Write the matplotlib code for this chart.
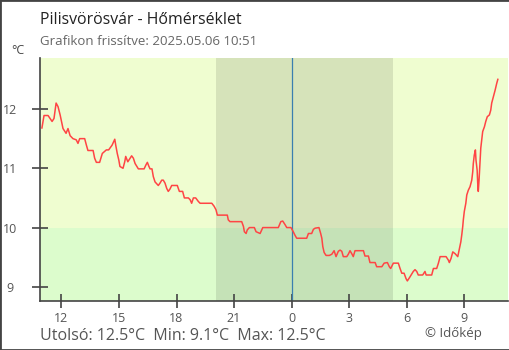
import matplotlib
matplotlib.use("Agg")
import matplotlib.pyplot as plt
from matplotlib.patches import Rectangle

# hours relative to midnight (negative = previous day)
hours = [-13.02, -12.91, -12.70, -12.49, -12.39, -12.28, -12.18, -12.07, -12.01, -11.92,
         -11.76, -11.66, -11.55, -11.40, -11.23, -11.14, -11.05, -10.79, -10.70, -10.62,
         -10.35, -10.27, -10.18, -10.01, -9.87, -9.66, -9.54, -9.36, -9.22, -9.17,
         -9.09, -9.01, -8.95, -8.79, -8.70, -8.65, -8.54, -8.42, -8.34, -8.25,
         -8.16, -7.99, -7.69, -7.59, -7.52, -7.45, -7.38, -7.28, -7.21, -7.12,
         -6.95, -6.86, -6.77, -6.69, -6.60, -6.51, -6.43, -6.34, -6.25, -5.96,
         -5.85, -5.68, -5.59, -5.38, -5.29, -5.21, -5.12, -5.00, -4.86, -4.77,
         -4.16, -4.04, -3.94, -3.87, -3.35, -3.30, -3.21, -2.60, -2.51, -2.46,
         -2.37, -2.31, -2.20, -1.94, -1.85, -1.64, -1.50, -0.69, -0.56, -0.46,
         -0.34, -0.25, -0.03, 0.09, 0.18, 0.27, 0.79, 0.88, 1.05, 1.14,
         1.23, 1.43, 1.52, 1.58, 1.63, 1.70, 1.80, 1.97, 2.10, 2.22,
         2.32, 2.44, 2.53, 2.62, 2.70, 2.88, 2.96, 3.05, 3.14, 3.22,
         3.31, 3.75, 3.83, 4.01, 4.09, 4.36, 4.44, 4.71, 4.83, 5.00,
         5.10, 5.17, 5.31, 5.57, 5.66, 5.75, 5.87, 5.97, 6.04, 6.18,
         6.35, 6.44, 6.53, 6.61, 6.84, 6.96, 7.02, 7.31, 7.40, 7.57,
         7.66, 7.75, 8.06, 8.18, 8.23, 8.32, 8.41, 8.53, 8.67, 8.74,
         8.83, 8.88, 8.93, 8.96, 9.01, 9.09, 9.14, 9.22, 9.31, 9.40,
         9.45, 9.48, 9.53, 9.59, 9.62, 9.68, 9.71, 9.74, 9.78, 9.83,
         9.87, 9.92, 9.97, 10.06, 10.13, 10.21, 10.32, 10.39, 10.44, 10.53,
         10.62, 10.70, 10.76]
temps = [11.68, 11.89, 11.89, 11.79, 11.84, 12.10, 12.04, 11.90, 11.81, 11.67,
         11.59, 11.67, 11.55, 11.50, 11.48, 11.42, 11.50, 11.50, 11.39, 11.30,
         11.30, 11.17, 11.10, 11.10, 11.25, 11.31, 11.31, 11.39, 11.49, 11.39,
         11.25, 11.14, 11.03, 11.00, 11.11, 11.20, 11.11, 11.17, 11.21, 11.17,
         11.08, 10.99, 10.99, 11.06, 11.10, 11.04, 10.99, 10.99, 10.86, 10.77,
         10.71, 10.75, 10.80, 10.80, 10.75, 10.66, 10.61, 10.65, 10.71, 10.71,
         10.61, 10.61, 10.50, 10.50, 10.47, 10.41, 10.50, 10.50, 10.44, 10.41,
         10.41, 10.36, 10.30, 10.21, 10.21, 10.13, 10.10, 10.10, 10.02, 9.93,
         9.90, 9.96, 10.00, 10.00, 9.93, 9.90, 10.00, 10.00, 10.10, 10.11,
         10.05, 10.00, 10.00, 9.93, 9.87, 9.82, 9.82, 9.90, 9.90, 9.97,
         9.99, 10.00, 9.90, 9.82, 9.68, 9.58, 9.53, 9.53, 9.55, 9.61,
         9.51, 9.60, 9.62, 9.60, 9.51, 9.51, 9.55, 9.61, 9.56, 9.51,
         9.61, 9.61, 9.52, 9.52, 9.41, 9.41, 9.34, 9.34, 9.40, 9.41,
         9.34, 9.31, 9.40, 9.40, 9.31, 9.23, 9.23, 9.14, 9.10, 9.17,
         9.26, 9.29, 9.26, 9.20, 9.20, 9.26, 9.20, 9.20, 9.31, 9.31,
         9.40, 9.51, 9.51, 9.45, 9.41, 9.48, 9.59, 9.56, 9.51, 9.62,
         9.76, 9.88, 10.02, 10.13, 10.27, 10.41, 10.55, 10.63, 10.69, 10.80,
         10.94, 11.08, 11.22, 11.31, 11.14, 10.97, 10.75, 10.61, 10.80, 11.11,
         11.34, 11.48, 11.62, 11.70, 11.79, 11.87, 11.90, 11.98, 12.10, 12.21,
         12.32, 12.43, 12.50]

x_ticks = [-12, -9, -6, -3, 0, 3, 6, 9]
x_tick_labels = ["12", "15", "18", "21", "0", "3", "6", "9"]
y_ticks = [9, 10, 11, 12]
y_tick_labels = ["9", "10", "11", "12"]
sunset, sunrise = -3.94, 5.29
threshold = 10

title = "Pilisvörösvár - Hőmérséklet"
subtitle = "Grafikon frissítve: 2025.05.06 10:51"
footer = "Utolsó: 12.5°C  Min: 9.1°C  Max: 12.5°C"
credit = "© Időkép"

plt.rcParams['font.family'] = ['Open Sans', 'DejaVu Sans']

fig = plt.figure(figsize=(5.1, 3.5), dpi=100)
fig.patch.set_facecolor("white")
ax = fig.add_axes([40/510, 1-300.5/350, 468/510, (300.5-58)/350])

xmin, xmax = -13.12, 11.29
ymin, ymax = 8.77, 12.86
ax.set_xlim(xmin, xmax)
ax.set_ylim(ymin, ymax)

ax.axhspan(threshold, ymax, color="#effdd0", lw=0, zorder=0)
ax.axhspan(ymin, threshold, color="#dcfccc", lw=0, zorder=0)
ax.axvspan(sunset, sunrise, color="black", alpha=0.1, lw=0, zorder=1)
ax.axvline(0, color="#3a7fb0", lw=0.9, zorder=2)

ax.plot(hours, temps, color="#ff4444", lw=1.1, zorder=3)

for s in ["top", "right"]:
    ax.spines[s].set_visible(False)
for s in ["left", "bottom"]:
    ax.spines[s].set_color("#444444")
    ax.spines[s].set_linewidth(1.2)

ax.set_xticks(x_ticks)
ax.set_xticklabels(x_tick_labels)
ax.set_yticks(y_ticks)
ax.set_yticklabels(y_tick_labels)
ax.tick_params(axis="x", direction="inout", length=10, width=1.2, color="#444444",
               labelsize=9, labelcolor="#555555", pad=3)
ax.tick_params(axis="y", direction="inout", length=11, width=1.2, color="#444444",
               labelsize=9, labelcolor="#555555", pad=16)
for lab in ax.get_yticklabels():
    lab.set_horizontalalignment("center")

fig.text(40/510, 1-24.5/350, title, fontsize=11.4, color="#222222", ha="left", va="baseline")
fig.text(40/510, 1-45/350, subtitle, fontsize=9.5, color="#666666", ha="left", va="baseline")
fig.text(18/510, 1-51/350, "°C", fontsize=9, color="#444444", ha="center", va="center")
fig.text(40/510, 1-339.5/350, footer, fontsize=11.5, color="#555555", ha="left", va="baseline")
fig.text(453/510, 1-337/350, credit, fontsize=9.5, color="#555555", ha="center", va="baseline")

fig.add_artist(Rectangle((0, 0), 1, 1, transform=fig.transFigure, fill=False,
                         edgecolor="#444444", lw=2))

fig.savefig("out.png", dpi=100)
